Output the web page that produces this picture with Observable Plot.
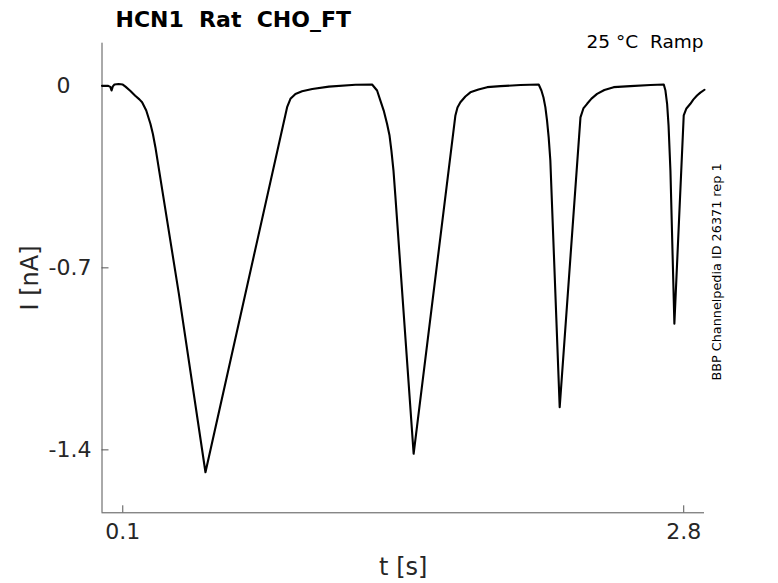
<!DOCTYPE html>
<html>
<head>
<meta charset="utf-8">
<script src="https://cdn.jsdelivr.net/npm/d3@7"></script>
<script src="https://cdn.jsdelivr.net/npm/@observablehq/plot@0.6"></script>
<style>
  html, body { margin: 0; padding: 0; background: #fff; }
  #chart svg { display: block; }
</style>
</head>
<body>
<div id="chart"></div>
<script>
// ---- data ----
const timeS = [
  0, 0.030, 0.040, 0.046, 0.052, 0.060, 0.080, 0.100, 0.113, 0.137, 0.160, 0.180, 0.193, 0.213, 0.233, 0.245, 0.257, 0.370, 0.498,
  0.891, 0.907, 0.931, 0.963, 1.012, 1.092, 1.220, 1.300,
  1.324, 1.340, 1.356, 1.372, 1.384, 1.393, 1.403, 1.412, 1.500,
  1.701, 1.711, 1.725, 1.749, 1.773, 1.812, 1.854, 1.918, 2.014, 2.102,
  2.115, 2.125, 2.134, 2.142, 2.150, 2.158, 2.203,
  2.303, 2.317, 2.335, 2.356, 2.383, 2.418, 2.463, 2.543, 2.640, 2.704,
  2.712, 2.720, 2.727, 2.736, 2.755,
  2.800, 2.813, 2.832, 2.846, 2.864, 2.880, 2.900];
const currentNA = [
  0, 0.000, -0.004, -0.018, -0.002, 0.005, 0.007, 0.005, -0.003, -0.020, -0.038, -0.052, -0.063, -0.095, -0.146, -0.185, -0.236, -0.800, -1.486,
  -0.082, -0.050, -0.031, -0.021, -0.012, -0.003, 0.004, 0.005,
  -0.018, -0.057, -0.095, -0.146, -0.191, -0.249, -0.326, -0.423, -1.415,
  -0.114, -0.083, -0.063, -0.041, -0.025, -0.014, -0.005, -0.001, 0.003, 0.005,
  -0.018, -0.045, -0.082, -0.133, -0.198, -0.287, -1.236,
  -0.121, -0.087, -0.069, -0.049, -0.031, -0.016, -0.005, -0.001, 0.003, 0.005,
  -0.018, -0.069, -0.153, -0.326, -0.915,
  -0.114, -0.087, -0.069, -0.053, -0.037, -0.026, -0.015];
const xDomain = [0, 2.9];
const yDomain = [-1.642, 0.164];
const xTicks = [0.1, 2.8];
const yTicks = [0, -0.7, -1.4];
const titleText = "HCN1  Rat  CHO_FT";
const conditionText = "25 °C  Ramp";
const sourceText = "BBP Channelpedia ID 26371 rep 1";
const xLabel = "t [s]";
const yLabel = "I [nA]";

const trace = timeS.map((t, i) => ({t, I: currentNA[i]}));
const ink = "#262626";

const chart = Plot.plot({
  width: 778,
  height: 583,
  marginLeft: 101.5,
  marginRight: 74,
  marginTop: 42.7,
  marginBottom: 70.7,
  style: {fontFamily: "DejaVu Sans", color: ink, background: "#fff", whiteSpace: "pre"},
  x: {domain: xDomain},
  y: {domain: yDomain},
  marks: [
    Plot.ruleX([xDomain[0]], {stroke: "#555", strokeWidth: 1}),
    Plot.ruleY([yDomain[0]], {stroke: "#555", strokeWidth: 1}),
    Plot.axisY(yTicks, {tickSize: -7, text: null, stroke: "#555", label: null}),
    Plot.axisY(yTicks, {tickSize: 0, tickPadding: 10.5, fontSize: 22, fill: ink, label: null,
      tickFormat: d => d === 0 ? "0\u2007\u2008" : String(d)}),
    Plot.axisX(xTicks, {tickSize: -7, text: null, stroke: "#555", label: null}),
    Plot.axisX(xTicks, {tickSize: 0, tickPadding: 11, fontSize: 22, fill: ink, label: null,
      tickFormat: d => String(d)}),
    Plot.line(trace, {x: "t", y: "I", stroke: "black", strokeWidth: 2.1, strokeLinejoin: "round"}),
    Plot.text([titleText], {frameAnchor: "top-left", dx: 13.5, dy: -16.7, lineAnchor: "bottom",
      textAnchor: "start", fontSize: 22, fontWeight: "bold", fill: "black"}),
    Plot.text([conditionText], {frameAnchor: "top-right", dx: -1, dy: 4.6, lineAnchor: "bottom",
      textAnchor: "end", fontSize: 18.5, fill: "black"}),
    Plot.text([sourceText], {frameAnchor: "right", dx: 12, dy: -6, rotate: -90, lineAnchor: "middle",
      textAnchor: "middle", fontSize: 12.8, fill: "black"}),
    Plot.text([xLabel], {frameAnchor: "bottom", dy: 54.7, lineAnchor: "middle",
      textAnchor: "middle", fontSize: 24, fill: ink}),
    Plot.text([yLabel], {frameAnchor: "left", dx: -72, rotate: -90, lineAnchor: "middle",
      textAnchor: "middle", fontSize: 24, fill: ink})
  ]
});
document.getElementById("chart").append(chart);
</script>
</body>
</html>
